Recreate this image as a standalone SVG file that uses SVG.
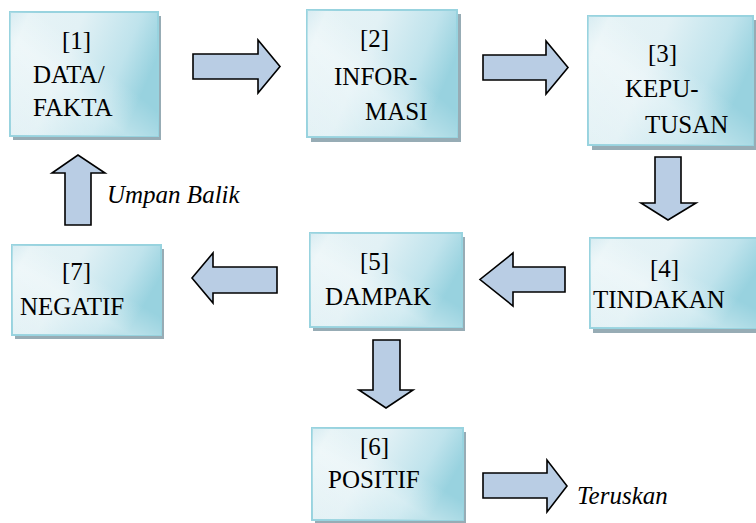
<svg xmlns="http://www.w3.org/2000/svg" width="756" height="523" viewBox="0 0 756 523" font-family="'Times New Roman', 'Liberation Serif', Tinos, serif">
  <defs>
    <linearGradient id="boxFill" x1="0" y1="0" x2="1" y2="0.35">
      <stop offset="0" stop-color="#cfe8ef"/>
      <stop offset="0.12" stop-color="#e6f3f6"/>
      <stop offset="0.45" stop-color="#e2f1f5"/>
      <stop offset="0.8" stop-color="#bfe3ec"/>
      <stop offset="1" stop-color="#98d2df"/>
    </linearGradient>
    <linearGradient id="boxSheen" x1="0" y1="1" x2="1" y2="0">
      <stop offset="0" stop-color="#ffffff" stop-opacity="0"/>
      <stop offset="0.4" stop-color="#ffffff" stop-opacity="0.35"/>
      <stop offset="0.6" stop-color="#ffffff" stop-opacity="0"/>
    </linearGradient>
  </defs>
  <rect width="756" height="523" fill="#ffffff"/>

  <!-- connectors: block arrows -->
  <g id="connectors">
    <g fill="#b9cde4" stroke="#000000" stroke-width="1.6">
      <polygon points="193,54 258,54 258,40 280,66.5 258,93 258,79 193,79"/>
      <polygon points="483,55 546,55 546,41 568,67.5 546,94 546,80 483,80"/>
      <polygon points="655,157 681,157 681,203 696,203 668,220 641,203 655,203"/>
      <polygon points="565,267 513,267 513,253 480,279.5 513,306 513,292 565,292"/>
      <polygon points="277,267 213,267 213,253 192,278 213,303 213,293 277,293"/>
      <polygon points="65,225 65,173 52,173 78,155 105,173 91,173 91,225"/>
      <polygon points="373,340 400,340 400,390 413,390 386,408 359,390 373,390"/>
      <polygon points="483,473 547,473 547,460 567,486 547,512 547,498 483,498"/>
    </g>
    <text x="107" y="203" font-family="Times New Roman" font-size="25" font-style="italic">Umpan Balik</text>
    <text x="577" y="504" font-family="Times New Roman" font-size="25" font-style="italic">Teruskan</text>
  </g>

  <g id="node1">
    <rect x="13" y="16" width="148" height="124" fill="#97acb5"/>
    <rect x="10" y="12" width="148" height="124" fill="url(#boxFill)" stroke="#98d3df" stroke-width="2"/>
    <rect x="10" y="12" width="148" height="124" fill="url(#boxSheen)"/>
    <text x="62" y="49" font-family="Times New Roman" font-size="25">[1]</text>
    <text x="33" y="83" font-family="Times New Roman" font-size="25">DATA/</text>
    <text x="33" y="116" font-family="Times New Roman" font-size="25">FAKTA</text>
  </g>

  <g id="node2">
    <rect x="311" y="14" width="150" height="128" fill="#97acb5"/>
    <rect x="307" y="10" width="150" height="127" fill="url(#boxFill)" stroke="#98d3df" stroke-width="2"/>
    <rect x="307" y="10" width="150" height="127" fill="url(#boxSheen)"/>
    <text x="360" y="47" font-family="Times New Roman" font-size="25">[2]</text>
    <text x="334" y="85" font-family="Times New Roman" font-size="25">INFOR-</text>
    <text x="365" y="120" font-family="Times New Roman" font-size="25">MASI</text>
  </g>

  <g id="node3">
    <rect x="592" y="20" width="164" height="130" fill="#97acb5"/>
    <rect x="588" y="16" width="165" height="129" fill="url(#boxFill)" stroke="#98d3df" stroke-width="2"/>
    <rect x="588" y="16" width="165" height="129" fill="url(#boxSheen)"/>
    <text x="648" y="62" font-family="Times New Roman" font-size="25">[3]</text>
    <text x="625" y="97" font-family="Times New Roman" font-size="25">KEPU-</text>
    <text x="645" y="133" font-family="Times New Roman" font-size="25">TUSAN</text>
  </g>

  <g id="node4">
    <rect x="593" y="242" width="163" height="91" fill="#97acb5"/>
    <rect x="590" y="238" width="168" height="90" fill="url(#boxFill)" stroke="#98d3df" stroke-width="2"/>
    <rect x="590" y="238" width="168" height="90" fill="url(#boxSheen)"/>
    <text x="650" y="277" font-family="Times New Roman" font-size="25">[4]</text>
    <text x="593" y="308" font-family="Times New Roman" font-size="25">TINDAKAN</text>
  </g>

  <g id="node5">
    <rect x="313" y="237" width="152" height="94" fill="#97acb5"/>
    <rect x="310" y="233" width="152" height="94" fill="url(#boxFill)" stroke="#98d3df" stroke-width="2"/>
    <rect x="310" y="233" width="152" height="94" fill="url(#boxSheen)"/>
    <text x="360" y="270" font-family="Times New Roman" font-size="25">[5]</text>
    <text x="325" y="305" font-family="Times New Roman" font-size="25">DAMPAK</text>
  </g>

  <g id="node6">
    <rect x="315" y="432" width="151" height="91" fill="#97acb5"/>
    <rect x="312" y="428" width="151" height="92" fill="url(#boxFill)" stroke="#98d3df" stroke-width="2"/>
    <rect x="312" y="428" width="151" height="92" fill="url(#boxSheen)"/>
    <text x="360" y="455" font-family="Times New Roman" font-size="25">[6]</text>
    <text x="328" y="488" font-family="Times New Roman" font-size="25">POSITIF</text>
  </g>

  <g id="node7">
    <rect x="15" y="249" width="149" height="90" fill="#97acb5"/>
    <rect x="12" y="245" width="149" height="90" fill="url(#boxFill)" stroke="#98d3df" stroke-width="2"/>
    <rect x="12" y="245" width="149" height="90" fill="url(#boxSheen)"/>
    <text x="62" y="280" font-family="Times New Roman" font-size="25">[7]</text>
    <text x="20" y="315" font-family="Times New Roman" font-size="25">NEGATIF</text>
  </g>
</svg>
